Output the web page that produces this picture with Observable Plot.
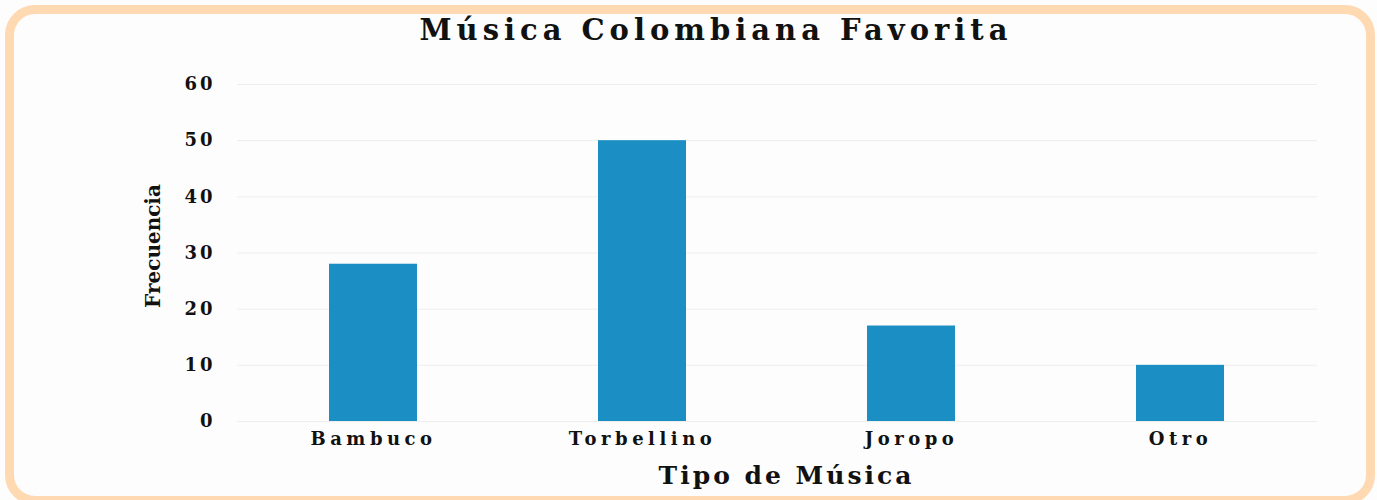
<!DOCTYPE html>
<html>
<head>
<meta charset="utf-8">
<script src="https://cdn.jsdelivr.net/npm/d3@7"></script>
<script src="https://cdn.jsdelivr.net/npm/@observablehq/plot@0.6"></script>
<style>
  html, body { margin: 0; padding: 0; background: #ffffff; }
  #wrap { position: relative; width: 1377px; height: 500px; overflow: hidden; background: #fdfdfd; }
  #frame { position: absolute; left: 5px; top: 5px; width: 1370px; height: 500px; box-sizing: border-box;
           border: 9px solid #ffd9b2; border-radius: 30px; pointer-events: none; }
  #title { position: absolute; left: 0; width: 1432px; top: 13px; text-align: center;
           font-family: "DejaVu Serif", serif; font-weight: bold; font-size: 29px; letter-spacing: 5px; color: #111; }
  #chart { position: absolute; left: 0; top: 0; }
  #chart svg text { font-family: "DejaVu Serif", serif; font-weight: bold; fill: #111; }
</style>
</head>
<body>
<div id="wrap">
  <div id="chart"></div>
  <div id="title">Música Colombiana Favorita</div>
  <div id="frame"></div>
</div>
<script>
const categories = ["Bambuco", "Torbellino", "Joropo", "Otro"];
const values = [28, 50, 17, 10];
const yTicks = [0, 10, 20, 30, 40, 50, 60];
const xTitle = "Tipo de Música";
const yTitle = "Frecuencia";

const data = categories.map((c, i) => ({tipo: c, frecuencia: values[i]}));

const chart = Plot.plot({
  width: 1377,
  height: 500,
  marginTop: 84,
  marginBottom: 79,
  marginLeft: 237,
  marginRight: 60,
  style: {background: "transparent", overflow: "visible"},
  x: {domain: categories, paddingInner: 0.672, paddingOuter: 0.34, label: null},
  y: {domain: [0, 60], ticks: yTicks, label: null},
  marks: [
    Plot.gridY(yTicks, {stroke: "#eeeeee", strokeOpacity: 1, strokeWidth: 1}),
    Plot.barY(data, {x: "tipo", y: "frecuencia", fill: "#1b8fc4"}),
    Plot.axisY(yTicks, {tickSize: 0, tickPadding: 22, fontSize: 18, label: null}),
    Plot.axisX({tickSize: 0, tickPadding: 11, fontSize: 18, label: null}),
    Plot.text([yTitle], {frameAnchor: "left", textAnchor: "middle", dx: -84, dy: -7, rotate: -90, fontSize: 20, fontWeight: "bold", fill: "#111"}),
    Plot.text([xTitle], {frameAnchor: "bottom", dy: 62, dx: 9, fontSize: 25, fontWeight: "bold", fill: "#111"})
  ]
});
document.getElementById("chart").appendChild(chart);
// widen the lettering like the reference's display font
chart.querySelectorAll("g[aria-label='y-axis tick label'] text").forEach(t => t.setAttribute("letter-spacing", "3"));
chart.querySelectorAll("g[aria-label='x-axis tick label'] text").forEach(t => t.setAttribute("letter-spacing", "4.5"));
chart.querySelectorAll("g[aria-label='text'] text").forEach(t => {
  if (t.textContent === xTitle) t.setAttribute("letter-spacing", "3");
});
</script>
</body>
</html>
